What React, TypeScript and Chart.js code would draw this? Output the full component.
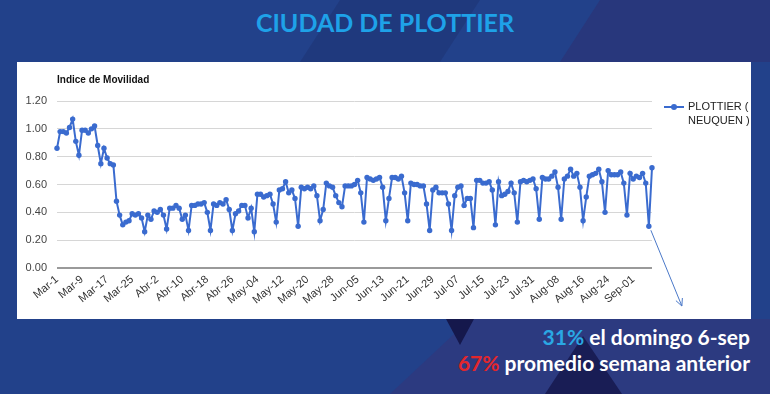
import React, { useEffect, useRef } from "react";
import { Chart, registerables } from "chart.js";

Chart.register(...registerables);

// Month name, number of days shown, zero-padded day labels
const monthNames = ["Mar", "Abr", "May", "Jun", "Jul", "Aug", "Sep"];
const monthDays = [31, 30, 31, 30, 31, 31, 7];
const monthPadded = [false, false, true, true, true, true, true];

const categories: string[] = [];
monthNames.forEach((m, mi) => {
  for (let d = 1; d <= monthDays[mi]; d++) {
    categories.push(`${m}-${monthPadded[mi] && d < 10 ? "0" + d : d}`);
  }
});

const tickLabels = [
  "Mar-1", "Mar-9", "Mar-17", "Mar-25", "Abr-2", "Abr-10", "Abr-18", "Abr-26",
  "May-04", "May-12", "May-20", "May-28", "Jun-05", "Jun-13", "Jun-21", "Jun-29",
  "Jul-07", "Jul-15", "Jul-23", "Jul-31", "Aug-08", "Aug-16", "Aug-24", "Sep-01",
];

const yTicks = ["0.00", "0.20", "0.40", "0.60", "0.80", "1.00", "1.20"];

// Indice de Movilidad, PLOTTIER ( NEUQUEN ), daily from Mar-1 to Sep-07
const movilidad = [
  0.86, 0.98, 0.98, 0.97, 1.01, 1.07, 0.91,
  0.81, 0.99, 0.99, 0.97, 1.0, 1.02, 0.88,
  0.75, 0.86, 0.79, 0.75, 0.74, 0.48, 0.38,
  0.31, 0.33, 0.34, 0.39, 0.38, 0.39, 0.36,
  0.26, 0.38, 0.35, 0.41, 0.4, 0.42, 0.38,
  0.28, 0.43, 0.43, 0.45, 0.43, 0.35, 0.38,
  0.27, 0.45, 0.45, 0.46, 0.46, 0.47, 0.4,
  0.27, 0.46, 0.45, 0.47, 0.46, 0.49, 0.42,
  0.27, 0.39, 0.41, 0.45, 0.45, 0.36, 0.43,
  0.26, 0.53, 0.53, 0.51, 0.52, 0.53, 0.46,
  0.33, 0.56, 0.57, 0.62, 0.54, 0.56, 0.5,
  0.3, 0.58, 0.57, 0.58, 0.57, 0.59, 0.52,
  0.34, 0.42, 0.61, 0.59, 0.58, 0.52, 0.47,
  0.44, 0.59, 0.59, 0.59, 0.6, 0.63, 0.54,
  0.33, 0.65, 0.64, 0.63, 0.64, 0.65, 0.58,
  0.34, 0.5, 0.65, 0.65, 0.64, 0.66, 0.54,
  0.34, 0.61, 0.6, 0.6, 0.59, 0.59, 0.46,
  0.27, 0.56, 0.58, 0.54, 0.54, 0.54, 0.46,
  0.27, 0.52, 0.58, 0.59, 0.45, 0.5, 0.5,
  0.29, 0.63, 0.63, 0.61, 0.61, 0.62, 0.56,
  0.31, 0.62, 0.52, 0.53, 0.55, 0.61, 0.54,
  0.33, 0.62, 0.63, 0.62, 0.63, 0.64, 0.57,
  0.35, 0.65, 0.64, 0.64, 0.66, 0.69, 0.58,
  0.35, 0.64, 0.66, 0.71, 0.66, 0.68, 0.58,
  0.34, 0.51, 0.66, 0.67, 0.68, 0.71, 0.62,
  0.4, 0.7, 0.67, 0.67, 0.67, 0.69, 0.61,
  0.38, 0.68, 0.64, 0.66, 0.65, 0.68, 0.61,
  0.3, 0.72,
];

const seriesName = ["PLOTTIER (", "NEUQUEN )"];
const highlightIndex = 189; // domingo 6-sep

const LINE = "#3a6bcf";
const FONT = '"Liberation Sans", Arial, sans-serif';

const overlay = {
  id: "overlay",
  afterDraw(chart: any) {
    const ctx = chart.ctx;
    ctx.save();
    ctx.textBaseline = "middle";
    ctx.fillStyle = "#111";
    ctx.font = `bold 10px ${FONT}`;
    ctx.fillText("Indice de Movilidad", chart.chartArea.left, 18);

    // legend
    const lx = chart.chartArea.right + 12;
    const ly = 45;
    ctx.strokeStyle = LINE;
    ctx.fillStyle = LINE;
    ctx.lineWidth = 2;
    ctx.beginPath();
    ctx.moveTo(lx, ly);
    ctx.lineTo(lx + 20, ly);
    ctx.stroke();
    ctx.beginPath();
    ctx.arc(lx + 10, ly, 3, 0, Math.PI * 2);
    ctx.fill();
    ctx.fillStyle = "#222";
    ctx.font = `11px ${FONT}`;
    ctx.fillText(seriesName[0], lx + 24, ly);
    ctx.fillText(seriesName[1], lx + 24, ly + 14);

    // arrow from the highlighted point
    const p = chart.getDatasetMeta(0).data[highlightIndex];
    if (p) {
      const x0 = p.x + 2, y0 = p.y + 4;
      const x1 = p.x + 33, y1 = chart.height - 13;
      ctx.strokeStyle = "#4a78c8";
      ctx.lineWidth = 1;
      ctx.beginPath();
      ctx.moveTo(x0, y0);
      ctx.lineTo(x1, y1);
      const a = Math.atan2(y1 - y0, x1 - x0);
      const h = 8;
      ctx.moveTo(x1, y1);
      ctx.lineTo(x1 - h * Math.cos(a - 0.45), y1 - h * Math.sin(a - 0.45));
      ctx.moveTo(x1, y1);
      ctx.lineTo(x1 - h * Math.cos(a + 0.45), y1 - h * Math.sin(a + 0.45));
      ctx.stroke();
    }
    ctx.restore();
  },
};

export default function App() {
  const ref = useRef<HTMLCanvasElement>(null);

  useEffect(() => {
    const chart = new Chart(ref.current as HTMLCanvasElement, {
      type: "line",
      data: {
        labels: categories,
        datasets: [
          {
            label: seriesName.join(" "),
            data: movilidad,
            borderColor: LINE,
            backgroundColor: LINE,
            borderWidth: 2,
            pointRadius: 2.7,
            pointBorderWidth: 0,
            pointBackgroundColor: LINE,
            tension: 0,
          },
        ],
      },
      options: {
        responsive: false,
        animation: false,
        layout: { padding: { top: 39, right: 99, left: 0, bottom: 0 } },
        plugins: { legend: { display: false }, tooltip: { enabled: false } },
        scales: {
          x: {
            type: "category",
            offset: false,
            grid: { display: false, drawTicks: false },
            border: { display: false },
            ticks: {
              autoSkip: false,
              minRotation: 40,
              maxRotation: 40,
              padding: 5,
              color: "#333",
              font: { family: FONT, size: 11 },
              callback: (_v: any, i: number) => (i % 8 === 0 ? tickLabels[i / 8] : ""),
            },
            afterFit: (s: any) => {
              s.height = 51;
            },
          },
          y: {
            min: 0,
            max: 1.2,
            grid: {
              drawTicks: false,
              color: (c: any) => {
                const v = Math.round(c.tick.value * 10);
                if (v === 0) return "#9a9a9a";
                return v % 2 === 0 ? "#d6d6d6" : "#ececec";
              },
              lineWidth: (c: any) => (Math.round(c.tick.value * 10) === 0 ? 2 : 1),
            },
            border: { display: false },
            ticks: {
              stepSize: 0.1,
              padding: 10,
              color: "#444",
              font: { family: FONT, size: 11 },
              callback: (v: any) => {
                const k = Math.round(Number(v) * 10);
                return k % 2 === 0 ? yTicks[k / 2] : "";
              },
            },
            afterFit: (s: any) => {
              s.width = 40;
            },
          },
        },
      },
      plugins: [overlay],
    } as any);
    return () => chart.destroy();
  }, []);

  return (
    <div
      style={{
        position: "absolute",
        left: 0,
        top: 0,
        width: 770,
        height: 394,
        overflow: "hidden",
        background: "#22418a",
        fontFamily: "Lato, sans-serif",
      }}
    >
      <svg width={770} height={394} style={{ position: "absolute", left: 0, top: 0 }}>
        <polygon points="340,0 480,0 440,62 300,62" fill="#1d3372" opacity={0.55} />
        <polygon points="600,0 770,0 770,62 560,62" fill="#2b3478" opacity={0.8} />
        <polygon points="470,319 770,319 770,394 390,394" fill="#2c3a80" />
        <polygon points="446,319 474,319 460,345" fill="#15184c" />
        <polygon points="583,336 545,394 622,394" fill="#191d55" />
      </svg>
      <div
        style={{
          position: "absolute",
          left: 0,
          width: 770,
          top: 6,
          textAlign: "center",
          color: "#1ea2e8",
          fontWeight: 700,
          fontSize: 25,
          lineHeight: "32px",
        }}
      >
        CIUDAD DE PLOTTIER
      </div>
      <div
        style={{
          position: "absolute",
          left: 17,
          top: 62,
          width: 734,
          height: 257,
          background: "#fff",
        }}
      >
        <canvas ref={ref} width={734} height={257} style={{ display: "block" }} />
      </div>
      <div
        style={{
          position: "absolute",
          right: 20,
          top: 324,
          textAlign: "right",
          color: "#fff",
          fontWeight: 700,
          fontSize: 21,
          lineHeight: "26px",
          whiteSpace: "nowrap",
        }}
      >
        <div>
          <span style={{ color: "#2aa8e4" }}>31%</span> el domingo 6-sep
        </div>
        <div>
          <span style={{ color: "#e3262b" }}>67%</span> promedio semana anterior
        </div>
      </div>
    </div>
  );
}
